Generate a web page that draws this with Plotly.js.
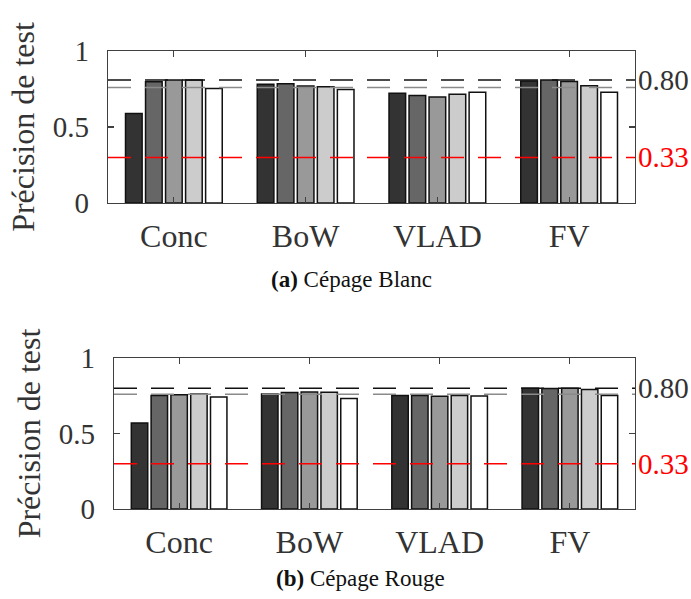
<!DOCTYPE html>
<html>
<head>
<meta charset="utf-8">
<script src="https://cdn.plot.ly/plotly-3.0.1.min.js"></script>
<style>html,body{margin:0;padding:0;background:#fff;}#chart{width:691px;height:599px;}</style>
</head>
<body>
<div id="chart"></div>
<script>
const categories = ['Conc', 'BoW', 'VLAD', 'FV'];

// Cépage Blanc (top) – five methods per category
const blanc1 = [0.588, 0.781, 0.722, 0.803];
const blanc2 = [0.798, 0.785, 0.708, 0.809];
const blanc3 = [0.809, 0.770, 0.697, 0.800];
const blanc4 = [0.809, 0.765, 0.715, 0.772];
const blanc5 = [0.754, 0.746, 0.728, 0.728];

// Cépage Rouge (bottom)
const rouge1 = [0.570, 0.762, 0.751, 0.800];
const rouge2 = [0.751, 0.771, 0.751, 0.798];
const rouge3 = [0.756, 0.775, 0.747, 0.800];
const rouge4 = [0.762, 0.773, 0.751, 0.791];
const rouge5 = [0.742, 0.731, 0.749, 0.751];

// Reference lines [black, gray, red]
const blancRefs = [0.81, 0.76, 0.30];
const rougeRefs = [0.80, 0.76, 0.30];
const refLabels = ['0.80', '0.33'];

const yTicks = [0, 0.5, 1];
const yTickText = ['0', '0.5', '1'];
const captions = ['<b>(a)</b> Cépage Blanc', '<b>(b)</b> Cépage Rouge'];

const fills = ['#333333', '#666666', '#999999', '#cccccc', '#ffffff'];
const FONT = 'Liberation Serif, Times New Roman, serif';

const traces = [];
[blanc1, blanc2, blanc3, blanc4, blanc5].forEach((v, i) => traces.push({
  type: 'bar', x: categories, y: v, xaxis: 'x', yaxis: 'y',
  marker: {color: fills[i], line: {color: '#111', width: 1.5}}, showlegend: false, hoverinfo: 'skip'
}));
[rouge1, rouge2, rouge3, rouge4, rouge5].forEach((v, i) => traces.push({
  type: 'bar', x: categories, y: v, xaxis: 'x2', yaxis: 'y2',
  marker: {color: fills[i], line: {color: '#111', width: 1.5}}, showlegend: false, hoverinfo: 'skip'
}));

const refColors = ['#111111', '#8a8a8a', '#ff0000'];
const shapes = [];
function addRefs(refs, xr, yr) {
  refs.forEach((v, i) => shapes.push({
    type: 'line', xref: xr + ' domain', yref: yr, x0: 0, x1: 1, y0: v, y1: v,
    line: {color: refColors[i], width: 1.5, dash: '23px,14px'}, layer: 'above'
  }));
}
addRefs(blancRefs, 'x', 'y');
addRefs(rougeRefs, 'x2', 'y2');

const annotations = [];
function addLabels(refs, yr) {
  annotations.push({xref: 'paper', yref: yr, x: 0.921, y: refs[0], text: refLabels[0], showarrow: false,
    xanchor: 'left', yanchor: 'middle', font: {family: FONT, size: 29, color: '#333'}});
  annotations.push({xref: 'paper', yref: yr, x: 0.921, y: refs[2], text: refLabels[1], showarrow: false,
    xanchor: 'left', yanchor: 'middle', font: {family: FONT, size: 29, color: '#ff0000'}});
}
addLabels(blancRefs, 'y');
addLabels(rougeRefs, 'y2');
annotations.push({xref: 'paper', yref: 'paper', x: 0.508, y: (599 - 279) / 599, text: captions[0], showarrow: false,
  xanchor: 'center', yanchor: 'middle', font: {family: FONT, size: 23, color: '#111'}});
annotations.push({xref: 'paper', yref: 'paper', x: 0.521, y: (599 - 578) / 599, text: captions[1], showarrow: false,
  xanchor: 'center', yanchor: 'middle', font: {family: FONT, size: 23, color: '#111'}});

function xaxis(domain, anchor) {
  return {
    domain: domain, anchor: anchor, type: 'category', range: [-0.5, 3.5],
    showline: true, linecolor: '#404040', linewidth: 1.2, mirror: 'ticks',
    ticks: 'inside', ticklen: 6, tickcolor: '#404040', tickwidth: 1.2,
    tickfont: {family: FONT, size: 32, color: '#333'}, ticklabelstandoff: 4,
    showgrid: false, zeroline: false, automargin: false, fixedrange: true
  };
}
function yaxis(domain, anchor) {
  return {
    domain: domain, anchor: anchor, range: [0, 1],
    tickvals: yTicks, ticktext: yTickText,
    showline: true, linecolor: '#404040', linewidth: 1.2, mirror: 'ticks',
    ticks: 'inside', ticklen: 6, tickcolor: '#404040', tickwidth: 1.2,
    tickfont: {family: FONT, size: 29, color: '#333'}, ticklabelstandoff: 12,
    title: {text: 'Précision de test', font: {family: FONT, size: 32, color: '#333'}, standoff: 8},
    showgrid: false, zeroline: false, automargin: false, fixedrange: true
  };
}

const layout = {
  width: 691, height: 599,
  margin: {l: 0, r: 0, t: 0, b: 0},
  paper_bgcolor: '#fff', plot_bgcolor: '#fff',
  barmode: 'group', bargap: 0.24, bargroupgap: 0.17,
  xaxis: xaxis([108 / 691, 635 / 691], 'y'),
  yaxis: yaxis([(599 - 203) / 599, (599 - 51) / 599], 'x'),
  xaxis2: xaxis([114 / 691, 635 / 691], 'y2'),
  yaxis2: yaxis([(599 - 509) / 599, (599 - 358) / 599], 'x2'),
  shapes: shapes, annotations: annotations, showlegend: false
};

Plotly.newPlot('chart', traces, layout, {staticPlot: true, displayModeBar: false});
</script>
</body>
</html>
